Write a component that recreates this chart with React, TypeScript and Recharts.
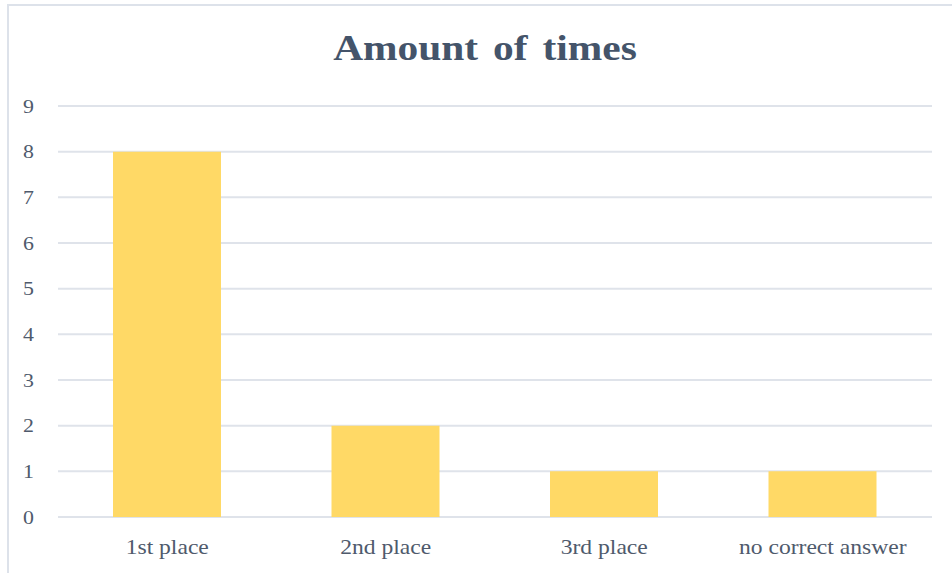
import React from "react"
import { BarChart, Bar, XAxis, YAxis, CartesianGrid } from "recharts"

const places = ["1st place", "2nd place", "3rd place", "no correct answer"]
const timesCounted = [8, 2, 1, 1]
const countTicks = [0, 1, 2, 3, 4, 5, 6, 7, 8, 9]

const data = places.map((place, i) => ({ place, times: timesCounted[i] }))

const serif = "Liberation Serif, Times New Roman, serif"
const labelColor = "#4f5a6c"
const gridColor = "#dfe3ea"
// glyphs are drawn a little wider than normal
const stretch = 1.15

const PlaceTick = (props: any) => {
  const { x, y, payload } = props
  return (
    <g transform={`translate(${x},${y})`}>
      <text
        transform="scale(1.18,1)"
        textAnchor="middle"
        dy="0.95em"
        fontSize={20}
        fontFamily={serif}
        fill={labelColor}
      >
        {payload.value}
      </text>
    </g>
  )
}

const CountTick = (props: any) => {
  const { x, y, payload } = props
  return (
    <g transform={`translate(${x},${y})`}>
      <text
        transform={`scale(${stretch},1)`}
        textAnchor="end"
        dy="0.35em"
        fontSize={19}
        fontFamily={serif}
        fill={labelColor}
      >
        {payload.value}
      </text>
    </g>
  )
}

export default function App() {
  return (
    <div style={{ position: "fixed", left: 0, top: 0, width: 952, height: 573, overflow: "hidden", background: "#fff" }}>
      <div
        style={{
          position: "absolute",
          left: 7,
          top: 4,
          width: 1000,
          height: 1000,
          border: "2px solid #dde2ea",
          boxSizing: "border-box",
        }}
      />
      <div
        style={{
          position: "absolute",
          left: 0,
          width: 970,
          top: 27,
          textAlign: "center",
          fontFamily: serif,
          fontWeight: "bold",
          fontSize: 36,
          wordSpacing: 4,
          color: "#44546a",
          transform: `scaleX(${stretch})`,
          transformOrigin: "485px 0",
        }}
      >
        Amount of times
      </div>
      <div style={{ position: "absolute", left: 0, top: 0 }}>
        <BarChart width={952} height={573} data={data} margin={{ top: 106, right: 20, bottom: 0, left: 0 }}>
          <CartesianGrid vertical={false} stroke={gridColor} strokeWidth={2} />
          <XAxis
            dataKey="place"
            height={56}
            axisLine={false}
            tickLine={false}
            tickMargin={12}
            tick={<PlaceTick />}
          />
          <YAxis
            width={58}
            domain={[0, 9]}
            ticks={countTicks}
            axisLine={false}
            tickLine={false}
            tickMargin={18}
            tick={<CountTick />}
          />
          <Bar dataKey="times" fill="#ffd966" barSize={108} isAnimationActive={false} />
        </BarChart>
      </div>
    </div>
  )
}
